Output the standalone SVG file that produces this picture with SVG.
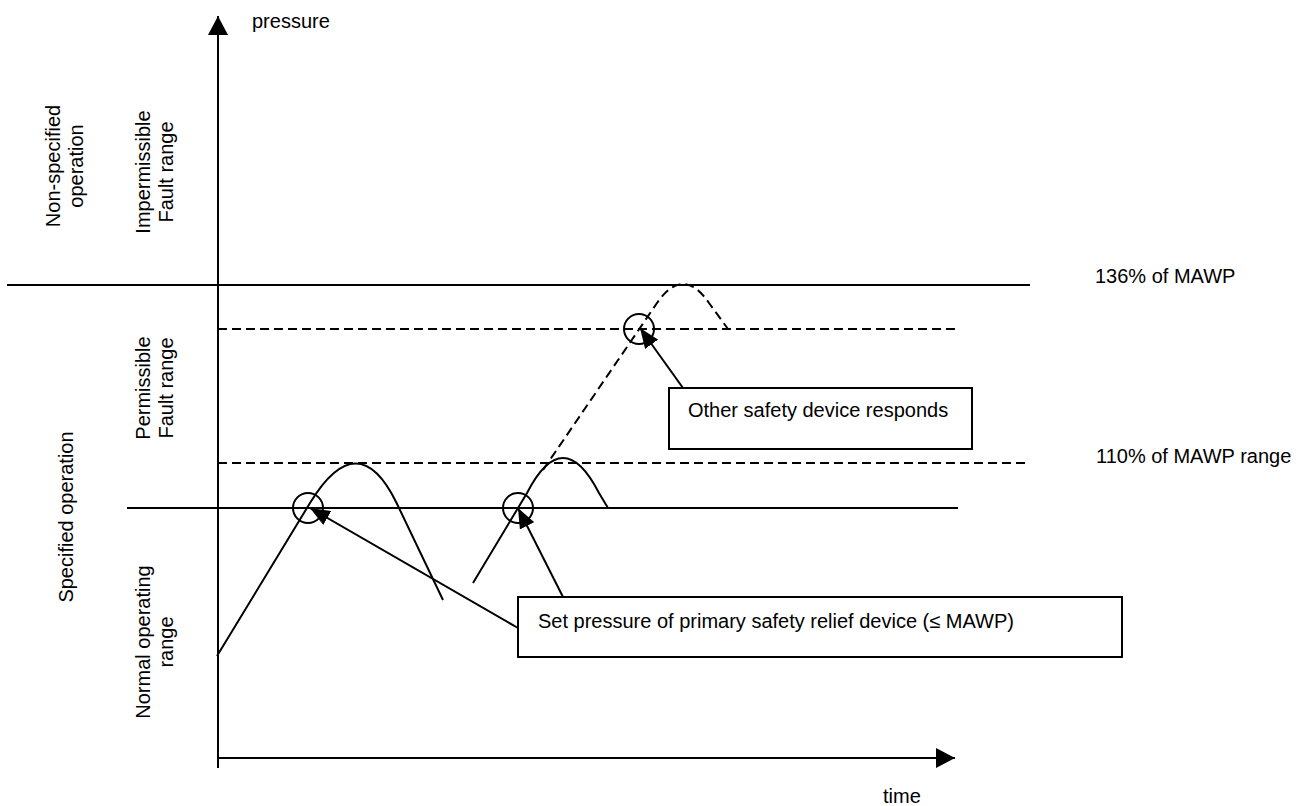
<svg xmlns="http://www.w3.org/2000/svg" width="1299" height="806" viewBox="0 0 1299 806">
<style>
.ln{stroke:#000;stroke-width:2;fill:none}
.ds{stroke:#000;stroke-width:2;fill:none;stroke-dasharray:9 5}
.bx{stroke:#000;stroke-width:2;fill:#fff}
.t{font-family:"Liberation Sans",Arial,sans-serif;font-size:20px;fill:#000}
.rc{font-family:"Liberation Sans",Arial,sans-serif;font-size:20px;fill:#000;text-anchor:middle}
</style>
<defs>
<marker id="ah" viewBox="0 0 20 16" refX="20" refY="8" markerWidth="20" markerHeight="16" markerUnits="userSpaceOnUse" orient="auto"><path d="M0,0 L20,8 L0,16 z" fill="#000"/></marker>
<marker id="ax" viewBox="0 0 19 20" refX="19" refY="10" markerWidth="19" markerHeight="20" markerUnits="userSpaceOnUse" orient="auto"><path d="M0,0 L19,10 L0,20 z" fill="#000"/></marker>
</defs>
<rect width="1299" height="806" fill="#fff"/>
<g id="axes">
<line class="ln" x1="218" y1="768" x2="218" y2="16" marker-end="url(#ax)"/>
<line class="ln" x1="217" y1="758" x2="955" y2="758" marker-end="url(#ax)"/>
<text class="t" x="252" y="28">pressure</text>
<text class="t" x="883" y="803">time</text>
</g>
<g id="levels">
<line class="ln" x1="7" y1="285" x2="1030" y2="285"/>
<line class="ds" x1="218" y1="329" x2="958" y2="329"/>
<line class="ds" x1="218" y1="463" x2="1030" y2="463"/>
<line class="ln" x1="127" y1="508" x2="958" y2="508"/>
<text class="t" x="1095" y="283">136% of MAWP</text>
<text class="t" x="1096" y="463">110% of MAWP range</text>
</g>
<g id="range-labels">
<text class="rc" transform="translate(60,166) rotate(-90)">Non-specified<tspan x="0" dy="23">operation</tspan></text>
<text class="rc" transform="translate(150,172) rotate(-90)">Impermissible<tspan x="0" dy="23">Fault range</tspan></text>
<text class="rc" transform="translate(150,388) rotate(-90)">Permissible<tspan x="0" dy="23">Fault range</tspan></text>
<text class="rc" transform="translate(73,517) rotate(-90)">Specified operation</text>
<text class="rc" transform="translate(150,642) rotate(-90)">Normal operating<tspan x="0" dy="23">range</tspan></text>
</g>
<g id="curves">
<path class="ln" d="M217,656 L310,503 Q358,424 396.6,503 L443,600"/>
<path class="ln" d="M473,583 L527,493 Q563,423 599,493 L608,508"/>
<path class="ds" d="M543,470 L657,303 Q683,265 709,303 L728,329"/>
<circle class="ln" cx="308" cy="508" r="15"/>
<circle class="ln" cx="518" cy="508" r="15"/>
<circle class="ln" cx="639" cy="329" r="15"/>
</g>
<g id="box-primary">
<rect class="bx" x="518" y="597" width="604" height="60"/>
<text class="t" x="538" y="628">Set pressure of primary safety relief device (≤ MAWP)</text>
</g>
<g id="box-other">
<rect class="bx" x="669" y="388" width="303" height="61"/>
<text class="t" x="688" y="417">Other safety device responds</text>
</g>
<g id="connectors">
<line class="ln" x1="518" y1="628" x2="310" y2="508" marker-end="url(#ah)"/>
<line class="ln" x1="563" y1="597" x2="518" y2="508" marker-end="url(#ah)"/>
<line class="ln" x1="683" y1="388" x2="640" y2="328" marker-end="url(#ah)"/>
</g>
</svg>
